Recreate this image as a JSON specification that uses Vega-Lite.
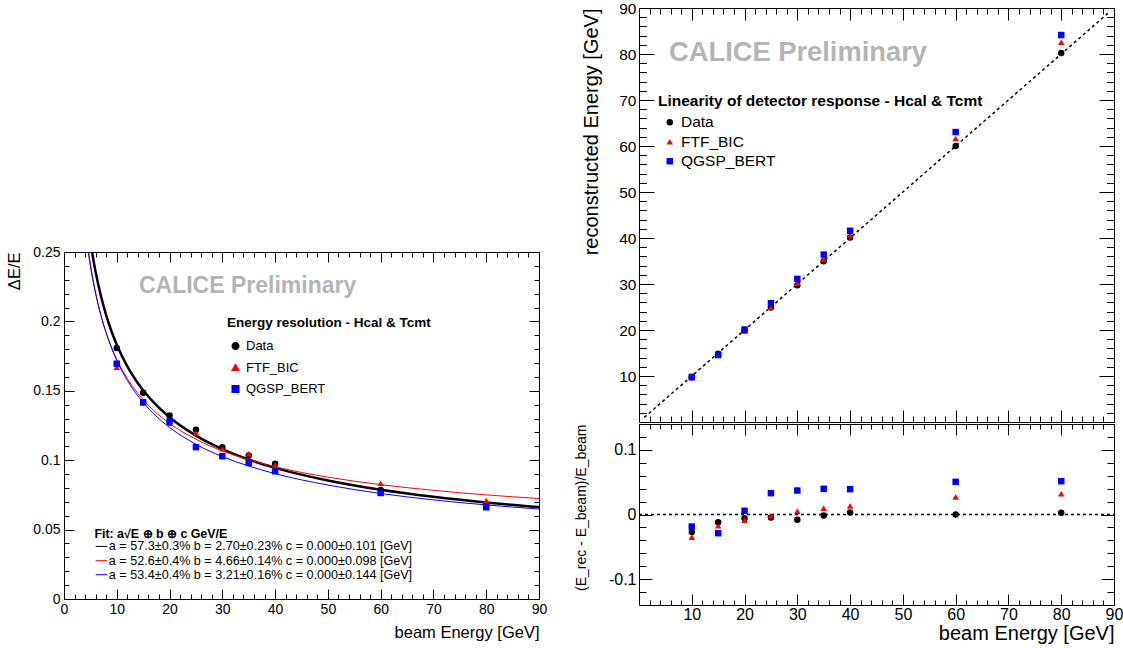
{
  "$schema": "https://vega.github.io/schema/vega-lite/v6.json",
  "background": "white",
  "padding": {"left": 6, "top": 0, "right": 2, "bottom": 0},
  "config": {
    "font": "Liberation Sans",
    "view": {"stroke": "black", "strokeWidth": 1},
    "axis": {"domain": false, "grid": false, "tickColor": "black", "labelColor": "black", "titleColor": "black", "titleFontWeight": "normal", "labelFont": "Liberation Sans", "titleFont": "Liberation Sans", "tickWidth": 1, "labelOverlap": false, "labelFlush": false},
    "legend": {"labelFont": "Liberation Sans", "titleFont": "Liberation Sans", "labelColor": "black", "titleColor": "black", "titleLimit": 500, "labelLimit": 300}
  },
  "datasets": {
    "res": [
      {"E": 10, "series": "Data", "v": 0.1808}, {"E": 15, "series": "Data", "v": 0.1486}, {"E": 20, "series": "Data", "v": 0.1322},
      {"E": 25, "series": "Data", "v": 0.1219}, {"E": 30, "series": "Data", "v": 0.1094}, {"E": 35, "series": "Data", "v": 0.1034},
      {"E": 40, "series": "Data", "v": 0.0974}, {"E": 60, "series": "Data", "v": 0.0786}, {"E": 80, "series": "Data", "v": 0.0678},
      {"E": 10, "series": "FTF_BIC", "v": 0.167}, {"E": 15, "series": "FTF_BIC", "v": 0.1413}, {"E": 20, "series": "FTF_BIC", "v": 0.1267},
      {"E": 25, "series": "FTF_BIC", "v": 0.1195}, {"E": 30, "series": "FTF_BIC", "v": 0.1082}, {"E": 35, "series": "FTF_BIC", "v": 0.1046},
      {"E": 40, "series": "FTF_BIC", "v": 0.0966}, {"E": 60, "series": "FTF_BIC", "v": 0.0834}, {"E": 80, "series": "FTF_BIC", "v": 0.0709},
      {"E": 10, "series": "QGSP_BERT", "v": 0.1695}, {"E": 15, "series": "QGSP_BERT", "v": 0.1418}, {"E": 20, "series": "QGSP_BERT", "v": 0.1279},
      {"E": 25, "series": "QGSP_BERT", "v": 0.1094}, {"E": 30, "series": "QGSP_BERT", "v": 0.1029}, {"E": 35, "series": "QGSP_BERT", "v": 0.0981},
      {"E": 40, "series": "QGSP_BERT", "v": 0.0921}, {"E": 60, "series": "QGSP_BERT", "v": 0.0764}, {"E": 80, "series": "QGSP_BERT", "v": 0.0661}
    ],
    "fit": [
      {"E": 5, "series": "Data", "v": 0.2577}, {"E": 5.3, "series": "Data", "v": 0.2504}, {"E": 6, "series": "Data", "v": 0.2355},
      {"E": 7, "series": "Data", "v": 0.2183}, {"E": 8, "series": "Data", "v": 0.2044}, {"E": 9, "series": "Data", "v": 0.1929},
      {"E": 10, "series": "Data", "v": 0.1832}, {"E": 12, "series": "Data", "v": 0.1676}, {"E": 14, "series": "Data", "v": 0.1555},
      {"E": 17, "series": "Data", "v": 0.1416}, {"E": 20, "series": "Data", "v": 0.1309}, {"E": 25, "series": "Data", "v": 0.1177},
      {"E": 30, "series": "Data", "v": 0.1080}, {"E": 35, "series": "Data", "v": 0.1005}, {"E": 40, "series": "Data", "v": 0.0945},
      {"E": 50, "series": "Data", "v": 0.0854}, {"E": 60, "series": "Data", "v": 0.0787}, {"E": 70, "series": "Data", "v": 0.0736},
      {"E": 80, "series": "Data", "v": 0.0695}, {"E": 90, "series": "Data", "v": 0.0662},
      {"E": 4.5, "series": "FTF_BIC", "v": 0.2523}, {"E": 5, "series": "FTF_BIC", "v": 0.2398}, {"E": 6, "series": "FTF_BIC", "v": 0.2197},
      {"E": 7, "series": "FTF_BIC", "v": 0.2042}, {"E": 8, "series": "FTF_BIC", "v": 0.1917}, {"E": 9, "series": "FTF_BIC", "v": 0.1814},
      {"E": 10, "series": "FTF_BIC", "v": 0.1727}, {"E": 12, "series": "FTF_BIC", "v": 0.1588}, {"E": 14, "series": "FTF_BIC", "v": 0.1481},
      {"E": 17, "series": "FTF_BIC", "v": 0.1358}, {"E": 20, "series": "FTF_BIC", "v": 0.1265}, {"E": 25, "series": "FTF_BIC", "v": 0.1151},
      {"E": 30, "series": "FTF_BIC", "v": 0.1067}, {"E": 35, "series": "FTF_BIC", "v": 0.1004}, {"E": 40, "series": "FTF_BIC", "v": 0.0953},
      {"E": 50, "series": "FTF_BIC", "v": 0.0878}, {"E": 60, "series": "FTF_BIC", "v": 0.0824}, {"E": 70, "series": "FTF_BIC", "v": 0.0783},
      {"E": 80, "series": "FTF_BIC", "v": 0.0750}, {"E": 90, "series": "FTF_BIC", "v": 0.0724},
      {"E": 4.5, "series": "QGSP_BERT", "v": 0.2538}, {"E": 5, "series": "QGSP_BERT", "v": 0.2410}, {"E": 6, "series": "QGSP_BERT", "v": 0.2204},
      {"E": 7, "series": "QGSP_BERT", "v": 0.2044}, {"E": 8, "series": "QGSP_BERT", "v": 0.1915}, {"E": 9, "series": "QGSP_BERT", "v": 0.1809},
      {"E": 10, "series": "QGSP_BERT", "v": 0.1719}, {"E": 12, "series": "QGSP_BERT", "v": 0.1575}, {"E": 14, "series": "QGSP_BERT", "v": 0.1463},
      {"E": 17, "series": "QGSP_BERT", "v": 0.1334}, {"E": 20, "series": "QGSP_BERT", "v": 0.1236}, {"E": 25, "series": "QGSP_BERT", "v": 0.1115},
      {"E": 30, "series": "QGSP_BERT", "v": 0.1026}, {"E": 35, "series": "QGSP_BERT", "v": 0.0958}, {"E": 40, "series": "QGSP_BERT", "v": 0.0903},
      {"E": 50, "series": "QGSP_BERT", "v": 0.0821}, {"E": 60, "series": "QGSP_BERT", "v": 0.0760}, {"E": 70, "series": "QGSP_BERT", "v": 0.0714},
      {"E": 80, "series": "QGSP_BERT", "v": 0.0678}, {"E": 90, "series": "QGSP_BERT", "v": 0.0648}
    ],
    "lin": [
      {"E": 10, "series": "Data", "rec": 9.73, "dev": -0.027}, {"E": 15, "series": "Data", "rec": 14.82, "dev": -0.012},
      {"E": 20, "series": "Data", "rec": 19.89, "dev": -0.0057}, {"E": 25, "series": "Data", "rec": 24.89, "dev": -0.0046},
      {"E": 30, "series": "Data", "rec": 29.75, "dev": -0.0082}, {"E": 35, "series": "Data", "rec": 34.95, "dev": -0.0015},
      {"E": 40, "series": "Data", "rec": 40.12, "dev": 0.0031}, {"E": 60, "series": "Data", "rec": 60.0, "dev": 0.0},
      {"E": 80, "series": "Data", "rec": 80.2, "dev": 0.0026},
      {"E": 10, "series": "FTF_BIC", "rec": 9.65, "dev": -0.035}, {"E": 15, "series": "FTF_BIC", "rec": 14.74, "dev": -0.0175},
      {"E": 20, "series": "FTF_BIC", "rec": 19.82, "dev": -0.0088}, {"E": 25, "series": "FTF_BIC", "rec": 24.95, "dev": -0.002},
      {"E": 30, "series": "FTF_BIC", "rec": 30.16, "dev": 0.0052}, {"E": 35, "series": "FTF_BIC", "rec": 35.34, "dev": 0.0098},
      {"E": 40, "series": "FTF_BIC", "rec": 40.54, "dev": 0.0134}, {"E": 60, "series": "FTF_BIC", "rec": 61.64, "dev": 0.0273},
      {"E": 80, "series": "FTF_BIC", "rec": 82.56, "dev": 0.032},
      {"E": 10, "series": "QGSP_BERT", "rec": 9.81, "dev": -0.0186}, {"E": 15, "series": "QGSP_BERT", "rec": 14.57, "dev": -0.0289},
      {"E": 20, "series": "QGSP_BERT", "rec": 20.11, "dev": 0.0057}, {"E": 25, "series": "QGSP_BERT", "rec": 25.83, "dev": 0.033},
      {"E": 30, "series": "QGSP_BERT", "rec": 31.11, "dev": 0.0371}, {"E": 35, "series": "QGSP_BERT", "rec": 36.39, "dev": 0.0397},
      {"E": 40, "series": "QGSP_BERT", "rec": 41.57, "dev": 0.0392}, {"E": 60, "series": "QGSP_BERT", "rec": 63.03, "dev": 0.0505},
      {"E": 80, "series": "QGSP_BERT", "rec": 84.12, "dev": 0.0515}
    ],
    "diag": [{"E": 1, "y": 1}, {"E": 89, "y": 89}],
    "zero": [{"E": 0, "y": 0}, {"E": 90, "y": 0}]
  },
  "spacing": 25,
  "resolve": {"scale": {"color": "independent", "shape": "independent"}, "legend": {"color": "independent", "shape": "independent"}},
  "hconcat": [
    {
      "spacing": 0,
      "vconcat": [
        {"width": 475, "height": 236, "view": {"stroke": null}, "data": {"values": [{}]}, "mark": {"type": "point", "opacity": 0}, "encoding": {}},
        {
          "width": 475,
          "height": 347,
          "resolve": {"axis": {"x": "independent", "y": "independent"}},
          "layer": [
            {
              "data": {"name": "fit"},
              "mark": {"type": "line", "clip": true, "interpolate": "monotone"},
              "encoding": {
                "x": {"field": "E", "type": "quantitative", "scale": {"domain": [0, 90], "nice": false},
                  "axis": {"orient": "bottom", "values": [0, 10, 20, 30, 40, 50, 60, 70, 80, 90], "tickSize": 10, "offset": -10, "labelPadding": 3, "labelFontSize": 14, "title": "beam Energy [GeV]", "titleFontSize": 16.5, "titleAnchor": "end", "titlePadding": 8}},
                "y": {"field": "v", "type": "quantitative", "scale": {"domain": [0, 0.25], "nice": false},
                  "axis": {"orient": "left", "values": [0, 0.05, 0.1, 0.15, 0.2, 0.25], "format": ".2~f", "tickSize": 10, "offset": -10, "labelPadding": 4, "labelFontSize": 14, "title": "ΔE/E", "titleFontSize": 16.5, "titleAnchor": "end", "titlePadding": 10}},
                "color": {"field": "series", "type": "nominal", "scale": {"domain": ["Data", "FTF_BIC", "QGSP_BERT"], "range": ["black", "red", "blue"]}},
                "strokeWidth": {"condition": {"test": "datum.series === 'Data'", "value": 2.5}, "value": 1}
              }
            },
            {
              "data": {"name": "res"},
              "mark": {"type": "point", "filled": true, "opacity": 1, "size": 42},
              "encoding": {
                "x": {"field": "E", "type": "quantitative", "axis": {"orient": "top", "values": [0, 10, 20, 30, 40, 50, 60, 70, 80, 90], "tickSize": 10, "offset": -10, "labels": false, "title": null}},
                "y": {"field": "v", "type": "quantitative", "axis": {"orient": "right", "values": [0, 0.05, 0.1, 0.15, 0.2, 0.25], "tickSize": 10, "offset": -10, "labels": false, "title": null}},
                "color": {"field": "series", "type": "nominal", "scale": {"domain": ["Data", "FTF_BIC", "QGSP_BERT"], "range": ["black", "red", "blue"]},
                  "legend": {"title": "Energy resolution -  Hcal & Tcmt", "orient": "none", "legendX": 163, "legendY": 308, "titleFontSize": 13.5, "titleFontWeight": "bold", "labelFontSize": 13, "symbolSize": 42, "rowPadding": 7.5, "titlePadding": 10, "symbolOffset": 2, "labelOffset": 4}},
                "shape": {"field": "series", "type": "nominal", "scale": {"domain": ["Data", "FTF_BIC", "QGSP_BERT"], "range": ["circle", "triangle-up", "square"]},
                  "legend": {"title": "Energy resolution -  Hcal & Tcmt", "orient": "none", "legendX": 163, "legendY": 308, "titleFontSize": 13.5, "titleFontWeight": "bold", "labelFontSize": 13, "symbolSize": 42, "rowPadding": 7.5, "titlePadding": 10, "symbolOffset": 2, "labelOffset": 4}}
              }
            },
            {
              "data": {"name": "res"},
              "mark": {"type": "point", "opacity": 0},
              "encoding": {
                "x": {"field": "E", "type": "quantitative", "axis": {"orient": "bottom", "values": [2,4,6,8,12,14,16,18,22,24,26,28,32,34,36,38,42,44,46,48,52,54,56,58,62,64,66,68,72,74,76,78,82,84,86,88], "tickSize": 5, "offset": -5, "labels": false, "title": null}},
                "y": {"field": "v", "type": "quantitative", "axis": {"orient": "left", "values": [0.01,0.02,0.03,0.04,0.06,0.07,0.08,0.09,0.11,0.12,0.13,0.14,0.16,0.17,0.18,0.19,0.21,0.22,0.23,0.24], "tickSize": 5, "offset": -5, "labels": false, "title": null}}
              }
            },
            {
              "data": {"name": "res"},
              "mark": {"type": "point", "opacity": 0},
              "encoding": {
                "x": {"field": "E", "type": "quantitative", "axis": {"orient": "top", "values": [2,4,6,8,12,14,16,18,22,24,26,28,32,34,36,38,42,44,46,48,52,54,56,58,62,64,66,68,72,74,76,78,82,84,86,88], "tickSize": 5, "offset": -5, "labels": false, "title": null}},
                "y": {"field": "v", "type": "quantitative", "axis": {"orient": "right", "values": [0.01,0.02,0.03,0.04,0.06,0.07,0.08,0.09,0.11,0.12,0.13,0.14,0.16,0.17,0.18,0.19,0.21,0.22,0.23,0.24], "tickSize": 5, "offset": -5, "labels": false, "title": null}}
              }
            },
            {
              "data": {"values": [{}]},
              "mark": {"type": "text", "text": "CALICE Preliminary", "fontWeight": "bold", "fontSize": 23, "color": "#b4b4b4", "align": "left", "baseline": "middle"},
              "encoding": {"x": {"datum": 14.2, "type": "quantitative", "axis": null}, "y": {"datum": 0.2253, "type": "quantitative", "axis": null}}
            },
            {
              "data": {"values": [{}]},
              "mark": {"type": "text", "text": "Fit: a√E ⊕ b ⊕ c GeV/E", "fontWeight": "bold", "fontSize": 12.4, "color": "black", "align": "left", "baseline": "middle"},
              "encoding": {"x": {"datum": 5.76, "type": "quantitative", "axis": null}, "y": {"datum": 0.0471, "type": "quantitative", "axis": null}}
            },
            {
              "data": {"values": [{}]},
              "mark": {"type": "text", "text": "a = 57.3±0.3%  b = 2.70±0.23% c = 0.000±0.101 [GeV]", "fontSize": 12.6, "color": "black", "align": "left", "baseline": "middle"},
              "encoding": {"x": {"datum": 8.5, "type": "quantitative", "axis": null}, "y": {"datum": 0.0379, "type": "quantitative", "axis": null}}
            },
            {
              "data": {"values": [{}]},
              "mark": {"type": "text", "text": "a = 52.6±0.4%  b = 4.66±0.14% c = 0.000±0.098 [GeV]", "fontSize": 12.6, "color": "black", "align": "left", "baseline": "middle"},
              "encoding": {"x": {"datum": 8.5, "type": "quantitative", "axis": null}, "y": {"datum": 0.0276, "type": "quantitative", "axis": null}}
            },
            {
              "data": {"values": [{}]},
              "mark": {"type": "text", "text": "a = 53.4±0.4%  b = 3.21±0.16% c = 0.000±0.144 [GeV]", "fontSize": 12.6, "color": "black", "align": "left", "baseline": "middle"},
              "encoding": {"x": {"datum": 8.5, "type": "quantitative", "axis": null}, "y": {"datum": 0.0175, "type": "quantitative", "axis": null}}
            },
            {
              "data": {"values": [{}]},
              "mark": {"type": "rule", "color": "black", "strokeWidth": 1},
              "encoding": {"x": {"datum": 6.0, "type": "quantitative", "axis": null}, "x2": {"datum": 8.2}, "y": {"datum": 0.0379, "type": "quantitative", "axis": null}}
            },
            {
              "data": {"values": [{}]},
              "mark": {"type": "rule", "color": "red", "strokeWidth": 1},
              "encoding": {"x": {"datum": 6.0, "type": "quantitative", "axis": null}, "x2": {"datum": 8.2}, "y": {"datum": 0.0276, "type": "quantitative", "axis": null}}
            },
            {
              "data": {"values": [{}]},
              "mark": {"type": "rule", "color": "blue", "strokeWidth": 1},
              "encoding": {"x": {"datum": 6.0, "type": "quantitative", "axis": null}, "x2": {"datum": 8.2}, "y": {"datum": 0.0175, "type": "quantitative", "axis": null}}
            }
          ]
        }
      ]
    },
    {
      "spacing": 0,
      "resolve": {"scale": {"color": "independent", "shape": "independent"}, "legend": {"color": "independent", "shape": "independent"}},
      "vconcat": [
        {
          "width": 475,
          "height": 414,
          "resolve": {"axis": {"x": "independent", "y": "independent"}},
          "layer": [
            {
              "data": {"name": "diag"},
              "mark": {"type": "line", "color": "black", "strokeWidth": 1.5, "strokeDash": [3, 3], "clip": true},
              "encoding": {
                "x": {"field": "E", "type": "quantitative", "scale": {"domain": [0, 90], "nice": false},
                  "axis": {"orient": "bottom", "values": [0, 10, 20, 30, 40, 50, 60, 70, 80, 90], "tickSize": 12, "offset": -12, "labels": false, "title": null}},
                "y": {"field": "y", "type": "quantitative", "scale": {"domain": [0, 90], "nice": false},
                  "axis": {"orient": "left", "values": [10, 20, 30, 40, 50, 60, 70, 80, 90], "tickSize": 15, "offset": -15, "labelPadding": 3, "labelFontSize": 15.5, "title": "reconstructed Energy [GeV]", "titleFontSize": 20, "titleAnchor": "end", "titlePadding": 17}}
              }
            },
            {
              "data": {"name": "lin"},
              "mark": {"type": "point", "filled": true, "opacity": 1, "size": 42},
              "encoding": {
                "x": {"field": "E", "type": "quantitative", "axis": {"orient": "top", "values": [0, 10, 20, 30, 40, 50, 60, 70, 80, 90], "tickSize": 12, "offset": -12, "labels": false, "title": null}},
                "y": {"field": "rec", "type": "quantitative", "axis": {"orient": "right", "values": [0, 10, 20, 30, 40, 50, 60, 70, 80, 90], "tickSize": 15, "offset": -15, "labels": false, "title": null}},
                "color": {"field": "series", "type": "nominal", "scale": {"domain": ["Data", "FTF_BIC", "QGSP_BERT"], "range": ["black", "red", "blue"]},
                  "legend": {"title": "Linearity of detector response - Hcal & Tcmt", "orient": "none", "legendX": 19, "legendY": 86, "titleFontSize": 15.5, "titleFontWeight": "bold", "labelFontSize": 15.5, "symbolSize": 42, "rowPadding": 2.5, "titlePadding": 5, "symbolOffset": 4, "labelOffset": 3.5}},
                "shape": {"field": "series", "type": "nominal", "scale": {"domain": ["Data", "FTF_BIC", "QGSP_BERT"], "range": ["circle", "triangle-up", "square"]},
                  "legend": {"title": "Linearity of detector response - Hcal & Tcmt", "orient": "none", "legendX": 19, "legendY": 86, "titleFontSize": 15.5, "titleFontWeight": "bold", "labelFontSize": 15.5, "symbolSize": 42, "rowPadding": 2.5, "titlePadding": 5, "symbolOffset": 4, "labelOffset": 3.5}}
              }
            },
            {
              "data": {"name": "lin"},
              "mark": {"type": "point", "opacity": 0},
              "encoding": {
                "x": {"field": "E", "type": "quantitative", "axis": {"orient": "bottom", "values": [2,4,6,8,12,14,16,18,22,24,26,28,32,34,36,38,42,44,46,48,52,54,56,58,62,64,66,68,72,74,76,78,82,84,86,88], "tickSize": 6, "offset": -6, "labels": false, "title": null}},
                "y": {"field": "rec", "type": "quantitative", "axis": {"orient": "left", "values": [2,4,6,8,12,14,16,18,22,24,26,28,32,34,36,38,42,44,46,48,52,54,56,58,62,64,66,68,72,74,76,78,82,84,86,88], "tickSize": 7.5, "offset": -7.5, "labels": false, "title": null}}
              }
            },
            {
              "data": {"name": "lin"},
              "mark": {"type": "point", "opacity": 0},
              "encoding": {
                "x": {"field": "E", "type": "quantitative", "axis": {"orient": "top", "values": [2,4,6,8,12,14,16,18,22,24,26,28,32,34,36,38,42,44,46,48,52,54,56,58,62,64,66,68,72,74,76,78,82,84,86,88], "tickSize": 6, "offset": -6, "labels": false, "title": null}},
                "y": {"field": "rec", "type": "quantitative", "axis": {"orient": "right", "values": [2,4,6,8,12,14,16,18,22,24,26,28,32,34,36,38,42,44,46,48,52,54,56,58,62,64,66,68,72,74,76,78,82,84,86,88], "tickSize": 7.5, "offset": -7.5, "labels": false, "title": null}}
              }
            },
            {
              "data": {"values": [{}]},
              "mark": {"type": "text", "text": "CALICE Preliminary", "fontWeight": "bold", "fontSize": 27.3, "color": "#b4b4b4", "align": "left", "baseline": "middle"},
              "encoding": {"x": {"datum": 5.7, "type": "quantitative", "axis": null}, "y": {"datum": 80.2, "type": "quantitative", "axis": null}}
            }
          ]
        },
        {
          "width": 475,
          "height": 181,
          "resolve": {"axis": {"x": "independent", "y": "independent"}},
          "layer": [
            {
              "data": {"name": "zero"},
              "mark": {"type": "line", "color": "black", "strokeWidth": 1.5, "strokeDash": [3, 3]},
              "encoding": {
                "x": {"field": "E", "type": "quantitative", "scale": {"domain": [0, 90], "nice": false},
                  "axis": {"orient": "bottom", "values": [10, 20, 30, 40, 50, 60, 70, 80, 90], "tickSize": 11, "offset": -11, "labelPadding": 1, "labelFontSize": 16, "title": "beam Energy [GeV]", "titleFontSize": 20, "titleAnchor": "end", "titlePadding": 1}},
                "y": {"field": "y", "type": "quantitative", "scale": {"domain": [-0.14, 0.14], "nice": false},
                  "axis": {"orient": "left", "values": [-0.1, 0, 0.1], "labelExpr": "datum.value < 0 ? '-' + format(-datum.value, '.1~f') : format(datum.value, '.1~f')", "tickSize": 13, "offset": -13, "labelPadding": 3, "labelFontSize": 16, "title": "(E_rec - E_beam)/E_beam", "titleFontSize": 14, "titleAnchor": "end", "titlePadding": 20}}
              }
            },
            {
              "data": {"name": "lin"},
              "mark": {"type": "point", "filled": true, "opacity": 1, "size": 42},
              "encoding": {
                "x": {"field": "E", "type": "quantitative", "axis": {"orient": "top", "values": [0, 10, 20, 30, 40, 50, 60, 70, 80, 90], "tickSize": 11, "offset": -11, "labels": false, "title": null}},
                "y": {"field": "dev", "type": "quantitative", "axis": {"orient": "right", "values": [-0.1, 0, 0.1], "tickSize": 13, "offset": -13, "labels": false, "title": null}},
                "color": {"field": "series", "type": "nominal", "scale": {"domain": ["Data", "FTF_BIC", "QGSP_BERT"], "range": ["black", "red", "blue"]}, "legend": null},
                "shape": {"field": "series", "type": "nominal", "scale": {"domain": ["Data", "FTF_BIC", "QGSP_BERT"], "range": ["circle", "triangle-up", "square"]}, "legend": null}
              }
            },
            {
              "data": {"name": "lin"},
              "mark": {"type": "point", "opacity": 0},
              "encoding": {
                "x": {"field": "E", "type": "quantitative", "axis": {"orient": "bottom", "values": [2,4,6,8,12,14,16,18,22,24,26,28,32,34,36,38,42,44,46,48,52,54,56,58,62,64,66,68,72,74,76,78,82,84,86,88], "tickSize": 5, "offset": -5, "labels": false, "title": null}},
                "y": {"field": "dev", "type": "quantitative", "axis": {"orient": "left", "values": [-0.12, -0.08, -0.06, -0.04, -0.02, 0.02, 0.04, 0.06, 0.08, 0.12], "tickSize": 7, "offset": -7, "labels": false, "title": null}}
              }
            },
            {
              "data": {"name": "lin"},
              "mark": {"type": "point", "opacity": 0},
              "encoding": {
                "x": {"field": "E", "type": "quantitative", "axis": {"orient": "top", "values": [2,4,6,8,12,14,16,18,22,24,26,28,32,34,36,38,42,44,46,48,52,54,56,58,62,64,66,68,72,74,76,78,82,84,86,88], "tickSize": 5, "offset": -5, "labels": false, "title": null}},
                "y": {"field": "dev", "type": "quantitative", "axis": {"orient": "right", "values": [-0.12, -0.08, -0.06, -0.04, -0.02, 0.02, 0.04, 0.06, 0.08, 0.12], "tickSize": 7, "offset": -7, "labels": false, "title": null}}
              }
            }
          ]
        }
      ]
    }
  ]
}
